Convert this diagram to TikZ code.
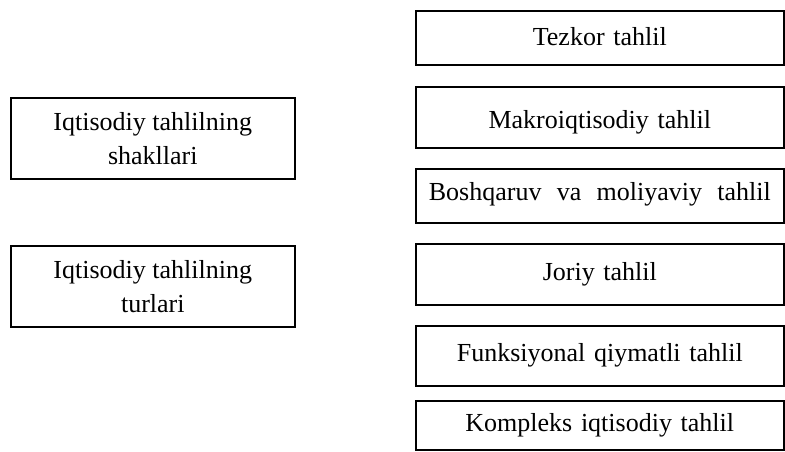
\documentclass[tikz,border=0pt]{standalone}
\usepackage{fontspec}
\setmainfont{Liberation Serif}
\newfontfamily\widespA[WordSpace=2.35]{Liberation Serif}
\begin{document}
\begin{tikzpicture}[x=1pt,y=-1pt,
  box/.style={draw=black, line width=1.6pt, inner xsep=0pt, inner ysep=0pt,
    font=\fontsize{26}{28}\selectfont},
  rbox/.style={box, align=center, minimum width=368pt, text width=368pt, anchor=north west},
  rboxw/.style={box, minimum width=368pt, anchor=north west},
  lbox/.style={box, align=center, font=\fontsize{26}{34}\selectfont, minimum width=284pt, minimum height=81pt, anchor=north west}
]
\useasboundingbox (0,0) rectangle (785,451);
\node[lbox] (l1) at (10,97) {Iqtisodiy tahlilning\\shakllari};
\node[lbox] (l2) at (10,245) {Iqtisodiy tahlilning\\turlari};
\node[rbox, text height=35pt, text depth=19pt] (r1) at (415,10) {Tezkor tahlil};
\node[rbox, text height=42pt, text depth=19pt] (r2) at (415,86) {Makroiqtisodiy tahlil};
\node[rboxw, text height=32pt, text depth=22pt, font=\widespA\fontsize{26}{28}\selectfont] (r3) at (415,168) {Boshqaruv va moliyaviy tahlil};
\node[rbox, text height=37pt, text depth=24pt] (r4) at (415,243) {Joriy tahlil};
\node[rbox, text height=36pt, text depth=24pt] (r5) at (415,325) {Funksiyonal qiymatli tahlil};
\node[rbox, text height=31pt, text depth=18pt] (r6) at (415,400) {Kompleks iqtisodiy tahlil};
\end{tikzpicture}
\end{document}
